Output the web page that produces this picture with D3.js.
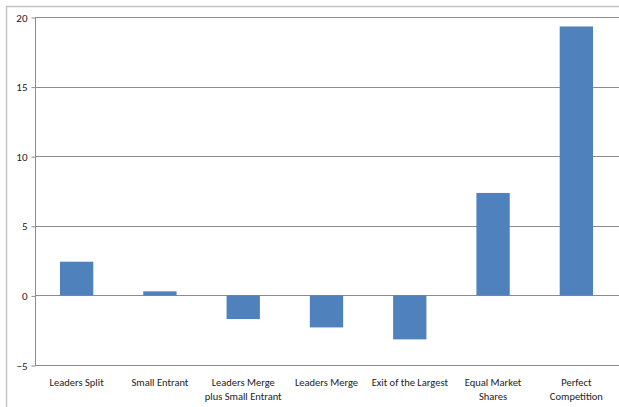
<!DOCTYPE html>
<html>
<head>
<meta charset="utf-8">
<script src="https://cdn.jsdelivr.net/npm/d3@7"></script>
<style>
  html, body { margin: 0; padding: 0; background: #fff; }
  svg { display: block; }
  text { font-family: Carlito, Lato, "Liberation Sans", sans-serif; fill: #222; }
</style>
</head>
<body>
<svg id="chart" width="619" height="407"></svg>
<script>
// Categories (each label may wrap to two lines)
const categories = [
  ["Leaders Split"],
  ["Small Entrant"],
  ["Leaders Merge", "plus Small Entrant"],
  ["Leaders Merge"],
  ["Exit of the Largest"],
  ["Equal Market", "Shares"],
  ["Perfect", "Competition"]
];
const values = [2.42, 0.29, -1.70, -2.30, -3.16, 7.36, 19.32];
const yTicks = [-5, 0, 5, 10, 15, 20];

const svg = d3.select("#chart");
const W = 619, H = 407;
const m = { left: 35, right: 1, top: 17, bottom: 42 };

// Outer chart frame
svg.append("path")
  .attr("d", `M6.5,${H} V6.5 H${W}`)
  .attr("fill", "none")
  .attr("stroke", "#c4c4c4")
  .attr("stroke-width", 1.5);

const keys = categories.map((c, i) => i);
const x = d3.scaleBand().domain(keys).range([m.left, W - m.right]).paddingInner(0.6).paddingOuter(0.3);
const band = d3.scaleBand().domain(keys).range([m.left, W - m.right]);
const y = d3.scaleLinear().domain([-5, 20]).range([H - m.bottom, m.top]);

// Horizontal gridlines
svg.append("g").selectAll("line").data(yTicks).join("line")
  .attr("x1", m.left).attr("x2", W)
  .attr("y1", d => Math.round(y(d)) + 0.5).attr("y2", d => Math.round(y(d)) + 0.5)
  .attr("stroke", "#8c8c8c").attr("stroke-width", 1);

// Value axis
const yAxis = d3.axisLeft(y).tickValues(yTicks).tickSize(4).tickPadding(4).tickFormat(d3.format("d"));
const gy = svg.append("g").attr("transform", `translate(${m.left + 0.5},0.5)`).call(yAxis);
gy.select(".domain").attr("stroke", "#8c8c8c").attr("d", `M0,${Math.round(y(20))}V${Math.round(y(-5))}`);
gy.selectAll(".tick line").attr("stroke", "#8c8c8c");
gy.selectAll(".tick text").attr("font-size", 11).attr("font-family", "Carlito, Lato, sans-serif").attr("fill", "#222");

// Bars
svg.append("g").selectAll("rect").data(values).join("rect")
  .attr("x", (d, i) => x(i))
  .attr("width", x.bandwidth())
  .attr("y", d => y(Math.max(0, d)))
  .attr("height", d => Math.abs(y(d) - y(0)))
  .attr("fill", "#4f81bd");

// Category labels below the plot
const lab = svg.append("g").selectAll("text").data(categories).join("text")
  .attr("text-anchor", "middle")
  .attr("font-size", 10.5)
  .attr("x", (d, i) => band(i) + band.bandwidth() / 2)
  .attr("y", 386);
lab.selectAll("tspan").data(d => d).join("tspan")
  .attr("x", function () { return d3.select(this.parentNode).attr("x"); })
  .attr("dy", (d, i) => i === 0 ? 0 : 13.5)
  .text(d => d);
</script>
</body>
</html>
